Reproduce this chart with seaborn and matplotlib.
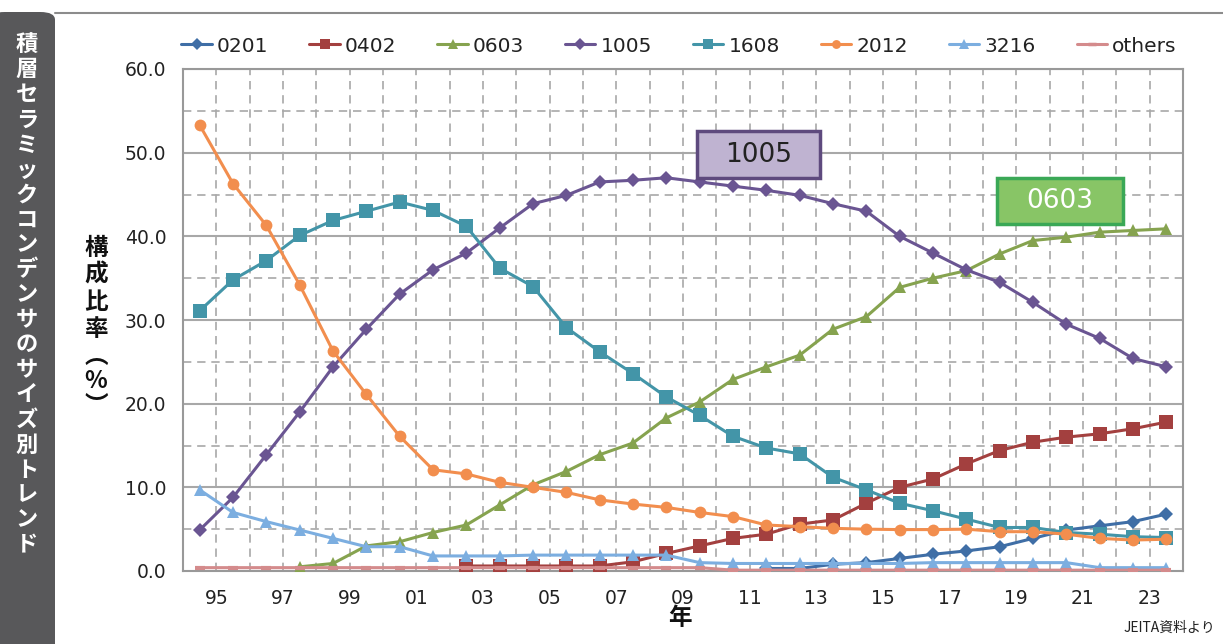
import numpy as np
import pandas as pd
import seaborn as sns
import matplotlib
matplotlib.use('Agg')
import matplotlib.pyplot as plt
from matplotlib import rcParams
from matplotlib.patches import FancyBboxPatch, Rectangle
from matplotlib.lines import Line2D

sns.set_style('white')
rcParams['font.family'] = ['DejaVu Sans', 'Noto Sans CJK JP']

# data (share %) -- fiscal years 1994..2023
years = list(range(1994, 2024))
s0201 = [None] * 17 + [0.3, 0.3, 0.8, 1.0, 1.5, 2.0, 2.4, 2.9, 3.9, 4.9, 5.4, 5.9, 6.8]
s0402 = [None] * 8 + [0.6, 0.6, 0.6, 0.6, 0.6, 1.1, 2.1, 3.0, 3.9, 4.4, 5.6, 6.1,
                      8.1, 10.0, 11.0, 12.8, 14.4, 15.4, 16.0, 16.4, 17.0, 17.8]
s0603 = [None] * 3 + [0.5, 0.9, 3.0, 3.5, 4.6, 5.5, 7.9, 10.3, 11.9, 13.9, 15.3, 18.3,
                      20.2, 22.9, 24.4, 25.8, 28.9, 30.4, 33.9, 35.0, 35.9, 37.9, 39.5,
                      39.9, 40.5, 40.7, 40.9]
s1005 = [4.9, 8.8, 13.9, 19.0, 24.4, 28.9, 33.1, 36.0, 38.0, 41.0,
         43.9, 44.9, 46.5, 46.7, 47.0, 46.5, 46.0, 45.5, 44.9, 43.9,
         43.0, 40.0, 38.0, 36.0, 34.5, 32.1, 29.5, 27.8, 25.4, 24.4]
s1608 = [31.1, 34.8, 37.1, 40.1, 41.9, 43.0, 44.1, 43.1, 41.2, 36.2,
         34.0, 29.1, 26.2, 23.6, 20.8, 18.6, 16.1, 14.7, 14.0, 11.2,
         9.7, 8.1, 7.2, 6.2, 5.2, 5.2, 4.6, 4.4, 4.1, 4.0]
s2012 = [53.3, 46.3, 41.3, 34.2, 26.3, 21.1, 16.1, 12.1, 11.6, 10.6,
         10.0, 9.4, 8.5, 8.0, 7.6, 7.0, 6.5, 5.5, 5.3, 5.1,
         5.0, 4.95, 4.95, 5.0, 4.7, 4.7, 4.4, 3.9, 3.7, 3.8]
s3216 = [9.7, 7.0, 5.9, 4.9, 3.9, 2.9, 2.9, 1.8, 1.8, 1.8,
         1.9, 1.9, 1.9, 1.9, 1.9, 1.0, 0.9, 0.9, 0.9, 0.9,
         0.9, 0.9, 1.0, 1.0, 1.0, 1.0, 1.0, 0.4, 0.4, 0.4]
others = [0.4] * 16 + [0.1] * 14

sizes = ['0201', '0402', '0603', '1005', '1608', '2012', '3216', 'others']
series = [s0201, s0402, s0603, s1005, s1608, s2012, s3216, others]

colors = {'0201': '#3f6ea6', '0402': '#a3403f', '0603': '#86a34f',
          '1005': '#6a5592', '1608': '#4395a8', '2012': '#f28e4e',
          '3216': '#7caee0', 'others': '#d48b8c'}
markers = {'0201': 'D', '0402': 's', '0603': '^', '1005': 'D',
           '1608': 's', '2012': 'o', '3216': '^', 'others': '_'}
msizes = {'0201': 7.5, '0402': 9.5, '0603': 9, '1005': 7.5,
          '1608': 9.5, '2012': 8.5, '3216': 9, 'others': 7}

df = pd.DataFrame({'year': years})
for name, vals in zip(sizes, series):
    df[name] = pd.Series(vals, dtype=float)
long = df.melt(id_vars='year', var_name='size', value_name='share').dropna()
long['x'] = long['year'] + 0.5

W, H = 1223, 644
fig = plt.figure(figsize=(W / 100, H / 100), dpi=100)
ax = fig.add_axes([183 / W, 1 - 571 / H, 1000 / W, 502 / H])

grid_c = '#a8a8a8'
for name in sizes:
    sub = long[long['size'] == name]
    sns.lineplot(data=sub, x='x', y='share', ax=ax,
                 color=colors[name], marker=markers[name],
                 markersize=msizes[name], markeredgewidth=0 if name != 'others' else 3,
                 markeredgecolor=colors[name],
                 linewidth=2.2, label=name, legend=False, zorder=3)

ax.set_xlim(1994, 2024)
ax.set_ylim(0, 60)
ax.set_xticks(range(1994, 2025))
ax.set_xticklabels(['%02d' % (y % 100) if y % 2 == 1 and y < 2024 else '' for y in range(1994, 2025)])
ax.set_yticks(np.arange(0, 61, 10))
ax.set_yticklabels(['%.1f' % v for v in np.arange(0, 61, 10)])
ax.tick_params(axis='both', which='major', labelsize=13.5, colors='#999999',
               labelcolor='#222222', length=7, width=1.5, direction='out')
ax.tick_params(axis='x', pad=6)
ax.tick_params(axis='y', pad=5)

ax.grid(False)
for v in range(10, 61, 10):
    ax.axhline(v, color=grid_c, lw=1.5, zorder=1)
for v in range(5, 60, 10):
    ax.axhline(v, color=grid_c, lw=1.2, ls=(0, (5, 3.5)), zorder=1)
for y in range(1995, 2024):
    ax.axvline(y, color=grid_c, lw=1.2, ls=(0, (5, 3.5)), zorder=1)
for side in ['left', 'bottom', 'right', 'top']:
    ax.spines[side].set_visible(True)
    ax.spines[side].set_color('#999999')
    ax.spines[side].set_linewidth(1.5)
ax.set_xlabel('')
ax.set_ylabel('')

# callout boxes
ax.add_patch(Rectangle((2009.42, 46.95), 3.69, 5.6, facecolor='#bfb3d1',
                       edgecolor='#5e4a7e', lw=2.5, zorder=5, clip_on=False))
ax.text(2011.27, 49.75, '1005', ha='center', va='center', fontsize=19,
        color='#222222', zorder=6)
ax.add_patch(Rectangle((2018.42, 41.46), 3.78, 5.5, facecolor='#88c566',
                       edgecolor='#3aa856', lw=2.5, zorder=5, clip_on=False))
ax.text(2020.31, 44.2, '0603', ha='center', va='center', fontsize=19,
        color='white', zorder=6)

# legend
handles = [Line2D([], [], color=colors[n], marker=markers[n], lw=2.2,
                  markersize=msizes[n] * 0.75,
                  markeredgewidth=0 if n != 'others' else 2.5,
                  markeredgecolor=colors[n]) for n in sizes]
fig.legend(handles, sizes, loc='center', bbox_to_anchor=(679 / W, 1 - 46 / H),
           ncol=8, frameon=False, fontsize=14.5, handlelength=1.5,
           handletextpad=0.25, columnspacing=2.05, labelcolor='#222222')

# left title panel
panel = FancyBboxPatch((-10 / W, -20 / H), 65 / W, (H - 12 + 20) / H,
                       boxstyle='round,pad=0,rounding_size=0.012',
                       transform=fig.transFigure, facecolor='#58585a',
                       edgecolor='none', zorder=0)
fig.patches.append(panel)
fig.add_artist(Line2D([55 / W, 1], [1 - 13 / H, 1 - 13 / H], color='#8c8c8c',
                      lw=1.5, transform=fig.transFigure))

title = '積層セラミックコンデンサのサイズ別トレンド'
jp = ['Noto Sans CJK JP', 'DejaVu Sans']
for i, ch in enumerate(title):
    fig.text(27 / W, 1 - (45 + i * 25) / H, ch, ha='center', va='center',
             color='white', fontsize=16, fontweight='bold', family=jp)

ylab = ['構', '成', '比', '率', '︵', '%', '︶']
ypos = [248, 275, 302, 329, 356, 381, 406]
for ch, yp in zip(ylab, ypos):
    fig.text(96 / W, 1 - yp / H, ch, ha='center', va='center',
             color='#111111', fontsize=17, fontweight='bold', family=jp)

fig.text(680 / W, 1 - 618 / H, '年', ha='center', va='center', fontsize=17,
         fontweight='bold', color='#111111', family=jp)
fig.text(1215 / W, 1 - 628 / H, 'JEITA資料より', ha='right', va='center',
         fontsize=10, color='#222222', family=jp)

fig.savefig('out.png', dpi=100)
